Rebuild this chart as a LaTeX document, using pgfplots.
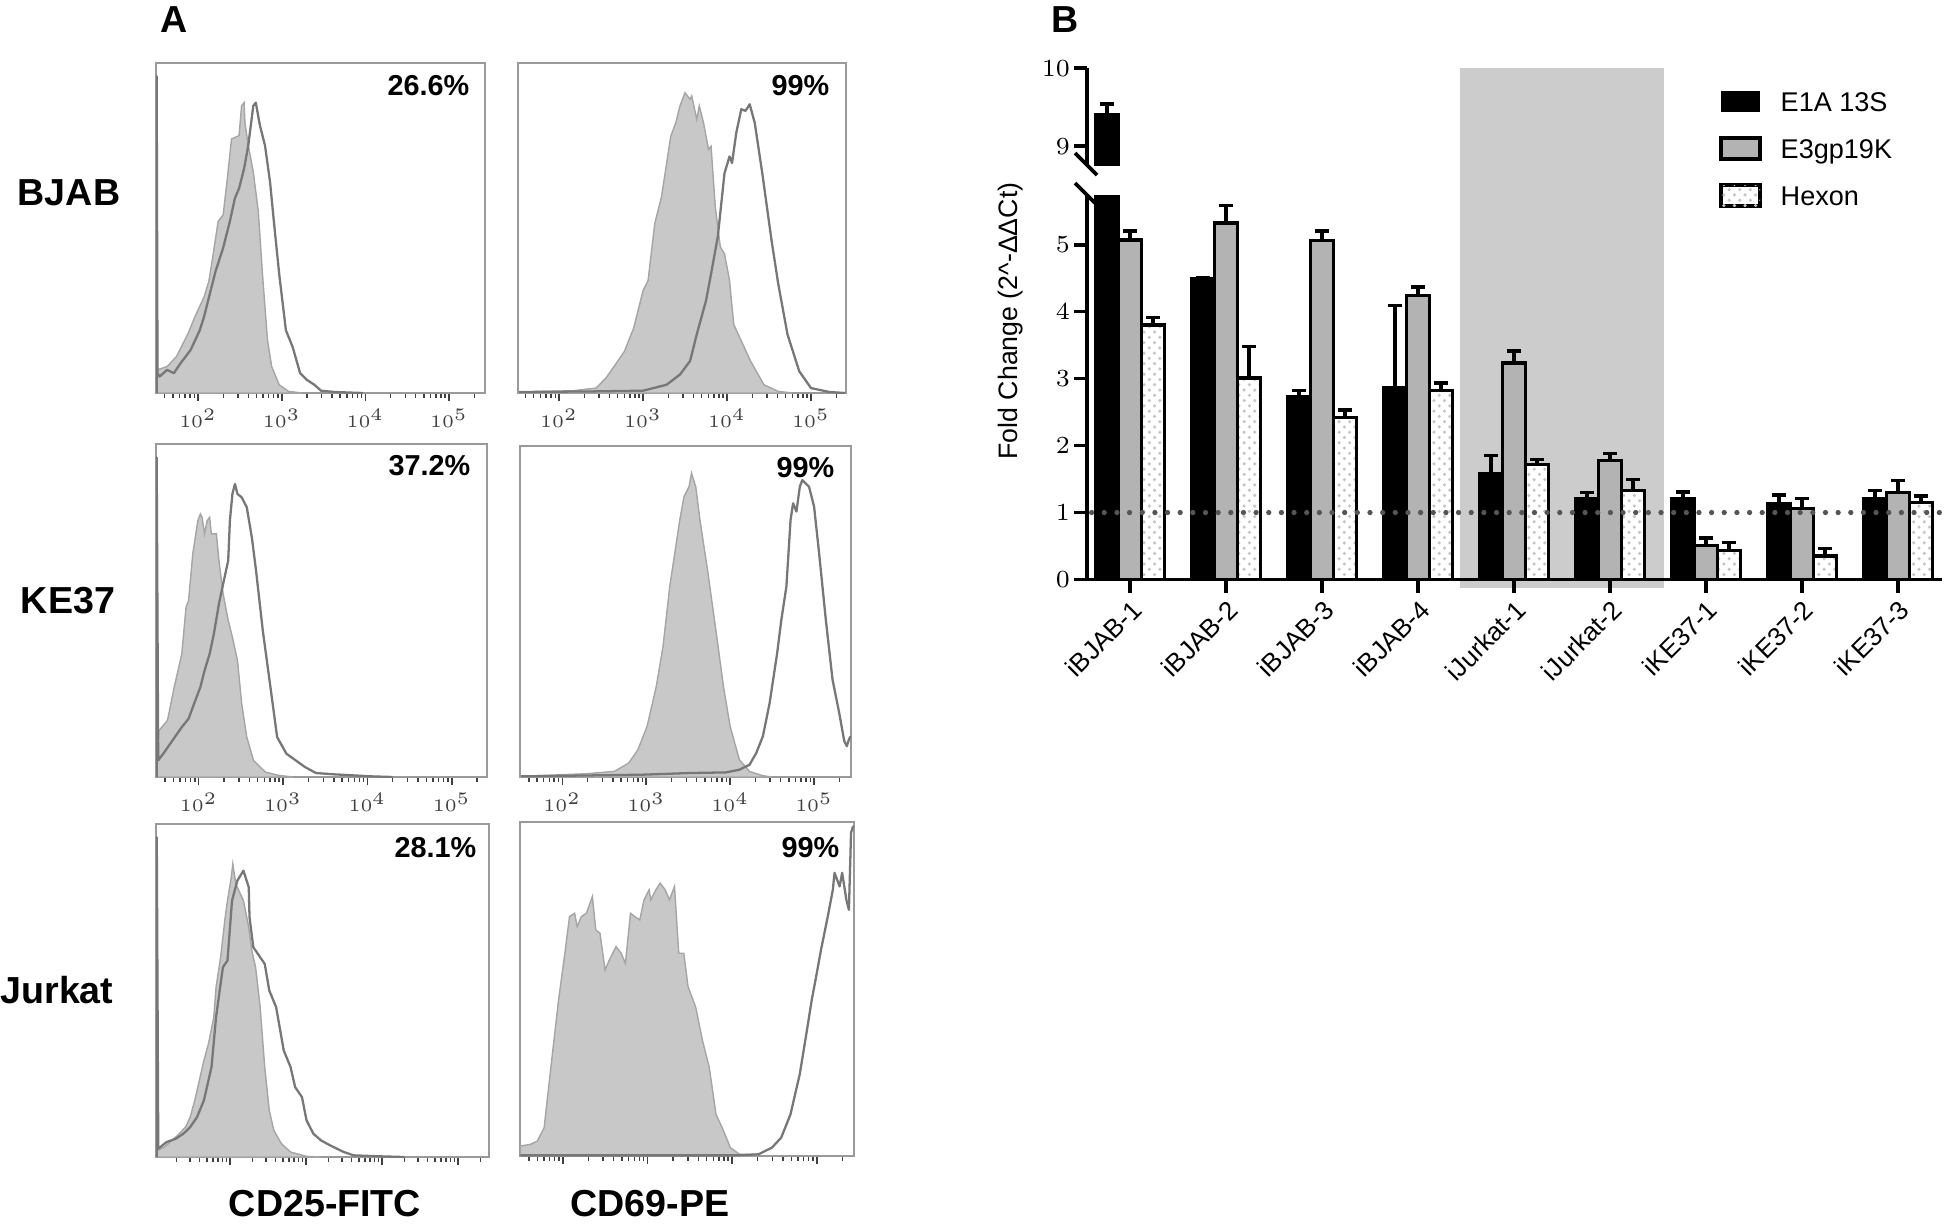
\documentclass[border=0pt]{standalone}
\usepackage{fontspec}
\setmainfont{Liberation Sans}
\usepackage{pgfplots}
\pgfplotsset{compat=1.18}
\usetikzlibrary{patterns}

\definecolor{histfill}{HTML}{C8C8C8}
\definecolor{histedge}{HTML}{A5A5A5}
\definecolor{histline}{HTML}{777777}
\definecolor{framegray}{HTML}{9A9A9A}
\definecolor{bargray}{HTML}{B3B3B3}
\definecolor{shadegray}{HTML}{CCCCCC}
\definecolor{dotgray}{HTML}{555555}

\newcommand\fs[1]{\fontsize{#1}{#1}\selectfont}

\pgfplotsset{
 hist/.style={scale only axis, anchor=south west, ymin=0, ymax=1,
  axis line style={framegray, line width=0.5pt},
  ytick=\empty, xtick={2,3,4,5},
  xticklabels={$10^{2}$,$10^{3}$,$10^{4}$,$10^{5}$},
  minor xtick={1.301,1.477,1.602,1.699,1.778,1.845,1.903,1.954,2.301,2.477,2.602,2.699,2.778,2.845,2.903,2.954,3.301,3.477,3.602,3.699,3.778,3.845,3.903,3.954,4.301,4.477,4.602,4.699,4.778,4.845,4.903,4.954,5.301},
  xtick pos=bottom, tick align=outside,
  major tick length=0.8mm, minor tick length=0.45mm,
  every tick/.append style={black!75, line width=0.45pt},
  every minor tick/.append style={black!75, line width=0.4pt},
  xticklabel style={font=\fs{5.2}, text=black!75, inner sep=0.6pt, yshift=-0.5mm},
 },
 fillcurve/.style={fill=histfill, draw=histedge, line width=0.4pt},
 openline/.style={draw=histline, line width=0.65pt, line join=round},
 ebar/.style={error bars/.cd, y dir=plus, y explicit,
   error bar style={black, line width=1pt},
   error mark options={rotate=90, black, line width=1pt, mark size=2pt}},
}

\begin{document}
\begin{tikzpicture}
\useasboundingbox (0,0) rectangle (194.6mm,-122.3mm);

% ---------------- Panel A ----------------
% Row 1 left: BJAB CD25
\begin{axis}[hist, at={(15.6mm,-39.3mm)}, width=32.9mm, height=33.0mm, xmin=1.497, xmax=5.43]
\addplot[fillcurve] table {
1.50 0
1.51 0.07
1.63 0.08
1.74 0.11
1.88 0.18
1.96 0.23
2.07 0.29
2.13 0.34
2.18 0.42
2.24 0.52
2.30 0.54
2.35 0.65
2.40 0.77
2.49 0.78
2.52 0.87
2.55 0.88
2.56 0.82
2.60 0.75
2.66 0.67
2.72 0.55
2.77 0.36
2.83 0.16
2.88 0.08
2.97 0.025
3.08 0.005
3.25 0
} -- cycle;
\addplot[openline] table {
1.505 0
1.505 0.96
1.515 0.06
1.54 0.05
1.63 0.07
1.71 0.06
1.79 0.09
1.91 0.13
2.02 0.19
2.07 0.23
2.16 0.32
2.21 0.37
2.30 0.44
2.38 0.52
2.44 0.59
2.49 0.62
2.55 0.68
2.60 0.75
2.66 0.87
2.69 0.88
2.74 0.81
2.80 0.75
2.86 0.64
2.91 0.51
2.97 0.36
3.05 0.19
3.13 0.14
3.22 0.06
3.30 0.04
3.39 0.025
3.47 0.007
3.64 0.003
3.97 0
};
\end{axis}

% Row 1 right: BJAB CD69
\begin{axis}[hist, at={(51.8mm,-39.3mm)}, width=32.8mm, height=33.0mm, xmin=1.511, xmax=5.417]
\addplot[fillcurve] table {
1.52 0
1.52 0.003
2.17 0.007
2.44 0.015
2.56 0.046
2.67 0.086
2.78 0.127
2.89 0.198
3.00 0.310
3.06 0.341
3.14 0.514
3.22 0.595
3.33 0.778
3.39 0.819
3.44 0.870
3.50 0.910
3.56 0.890
3.58 0.900
3.64 0.829
3.67 0.870
3.72 0.819
3.78 0.738
3.81 0.748
3.86 0.565
3.92 0.443
3.97 0.422
4.03 0.341
4.08 0.208
4.17 0.158
4.28 0.097
4.44 0.025
4.61 0.005
4.78 0
} -- cycle;
\addplot[openline] table {
1.52 0.003
2.44 0.005
3.00 0.007
3.28 0.025
3.44 0.056
3.56 0.097
3.64 0.178
3.75 0.280
3.81 0.361
3.89 0.473
3.97 0.666
4.03 0.717
4.06 0.697
4.11 0.788
4.17 0.860
4.22 0.855
4.27 0.875
4.33 0.819
4.42 0.666
4.53 0.463
4.61 0.331
4.72 0.178
4.86 0.066
5.00 0.015
5.22 0.003
5.41 0
};
\end{axis}

% Row 2 left: KE37 CD25
\begin{axis}[hist, at={(15.6mm,-77.7mm)}, width=33.1mm, height=33.3mm, xmin=1.494, xmax=5.418]
\addplot[fillcurve] table {
1.50 0
1.53 0.14
1.63 0.17
1.71 0.27
1.80 0.37
1.85 0.51
1.88 0.53
1.93 0.67
1.99 0.77
2.02 0.79
2.04 0.78
2.07 0.73
2.10 0.77
2.13 0.78
2.15 0.73
2.21 0.73
2.24 0.65
2.29 0.55
2.35 0.47
2.40 0.42
2.46 0.35
2.51 0.22
2.57 0.12
2.65 0.05
2.79 0.015
2.95 0.005
3.12 0
} -- cycle;
\addplot[openline] table {
1.502 0
1.502 0.96
1.52 0.05
1.58 0.07
1.69 0.11
1.80 0.15
1.88 0.175
1.96 0.23
2.02 0.27
2.07 0.32
2.13 0.37
2.18 0.43
2.24 0.52
2.29 0.58
2.35 0.65
2.37 0.77
2.40 0.85
2.43 0.88
2.46 0.85
2.51 0.84
2.57 0.81
2.63 0.72
2.68 0.62
2.76 0.44
2.84 0.29
2.93 0.12
3.04 0.07
3.15 0.05
3.26 0.03
3.39 0.012
3.61 0.008
4.05 0.002
4.30 0
};
\end{axis}

% Row 2 right: KE37 CD69
\begin{axis}[hist, at={(52.0mm,-77.7mm)}, width=33.1mm, height=33.1mm, xmin=1.496, xmax=5.44]
\addplot[fillcurve] table {
1.51 0
1.51 0.002
2.29 0.010
2.62 0.017
2.79 0.042
2.90 0.082
3.01 0.153
3.12 0.274
3.20 0.394
3.28 0.575
3.34 0.676
3.40 0.777
3.45 0.847
3.51 0.877
3.54 0.918
3.59 0.877
3.64 0.777
3.73 0.626
3.84 0.425
3.92 0.274
4.00 0.153
4.11 0.052
4.23 0.017
4.39 0.004
4.50 0
} -- cycle;
\addplot[openline] table {
1.51 0.002
2.95 0.007
3.51 0.012
3.95 0.014
4.11 0.022
4.23 0.037
4.31 0.072
4.39 0.123
4.47 0.223
4.56 0.374
4.61 0.475
4.67 0.575
4.72 0.777
4.75 0.827
4.79 0.802
4.83 0.877
4.86 0.897
4.90 0.887
4.94 0.877
5.00 0.817
5.06 0.676
5.14 0.475
5.22 0.294
5.30 0.193
5.36 0.108
5.39 0.093
5.415 0.113
5.435 0.123
};
\end{axis}

% Row 3 left: Jurkat CD25
\begin{axis}[hist, at={(15.6mm,-115.7mm)}, width=33.3mm, height=33.3mm, xmin=1.03, xmax=5.41, xticklabels={}]
\addplot[fillcurve] table {
1.04 0
1.05 0.02
1.14 0.03
1.29 0.06
1.42 0.09
1.48 0.12
1.54 0.17
1.60 0.23
1.66 0.29
1.72 0.34
1.79 0.42
1.82 0.51
1.88 0.60
1.94 0.72
1.97 0.77
2.02 0.84
2.04 0.88
2.08 0.82
2.12 0.80
2.18 0.77
2.25 0.69
2.29 0.62
2.34 0.57
2.40 0.45
2.46 0.27
2.52 0.14
2.58 0.08
2.68 0.04
2.80 0.015
3.01 0.002
3.20 0
} -- cycle;
\addplot[openline] table {
1.04 0
1.04 0.96
1.06 0.025
1.17 0.045
1.29 0.055
1.39 0.07
1.48 0.09
1.57 0.12
1.66 0.17
1.76 0.27
1.82 0.42
1.91 0.57
1.97 0.59
2.03 0.77
2.10 0.83
2.18 0.86
2.25 0.81
2.26 0.72
2.31 0.63
2.40 0.60
2.46 0.58
2.52 0.50
2.61 0.45
2.71 0.32
2.80 0.27
2.86 0.21
2.95 0.18
3.01 0.11
3.10 0.07
3.20 0.05
3.32 0.035
3.50 0.015
3.63 0.005
3.99 0.002
4.30 0
};
\end{axis}

% Row 3 right: Jurkat CD69
\begin{axis}[hist, at={(52.0mm,-115.6mm)}, width=33.4mm, height=33.4mm, xmin=1.495, xmax=5.44, xticklabels={}]
\addplot[fillcurve] table {
1.50 0
1.50 0.03
1.62 0.035
1.70 0.045
1.78 0.085
1.86 0.266
1.95 0.466
2.03 0.617
2.08 0.717
2.14 0.727
2.17 0.687
2.22 0.717
2.28 0.727
2.35 0.777
2.39 0.677
2.44 0.667
2.50 0.557
2.55 0.587
2.63 0.627
2.69 0.607
2.74 0.577
2.80 0.727
2.85 0.717
2.91 0.707
2.96 0.767
3.02 0.797
3.04 0.767
3.10 0.797
3.15 0.817
3.21 0.797
3.26 0.767
3.32 0.807
3.37 0.607
3.43 0.607
3.48 0.507
3.57 0.446
3.65 0.346
3.73 0.266
3.81 0.125
3.90 0.075
3.98 0.025
4.09 0.005
4.31 0.005
4.31 0
} -- cycle;
\addplot[openline] table {
1.50 0.002
4.03 0.002
4.31 0.005
4.47 0.025
4.58 0.055
4.69 0.125
4.80 0.246
4.89 0.386
4.94 0.466
5.00 0.547
5.05 0.617
5.13 0.717
5.19 0.797
5.21 0.848
5.27 0.807
5.30 0.848
5.35 0.767
5.38 0.737
5.405 0.968
5.43 0.988
};
\end{axis}

% Panel A labels
\tikzset{lab/.style={font=\bfseries\fs{10.7}, inner sep=0pt}, pct/.style={font=\bfseries\fs{8.2}, inner sep=0pt, anchor=base east}}
\node[lab, anchor=base] at (17.4mm,-3.2mm) {A};
\node[lab, anchor=base] at (6.9mm,-20.5mm) {BJAB};
\node[lab, anchor=base] at (6.8mm,-61.3mm) {KE37};
\node[lab, anchor=base] at (5.7mm,-100.3mm) {Jurkat};
\node[lab, anchor=base] at (32.5mm,-121.6mm) {CD25-FITC};
\node[lab, anchor=base] at (65.0mm,-121.6mm) {CD69-PE};
\node[pct] at (47.0mm,-9.5mm) {26.6\%};
\node[pct] at (83.0mm,-9.5mm) {99\%};
\node[pct] at (47.1mm,-47.5mm) {37.2\%};
\node[pct] at (83.5mm,-47.7mm) {99\%};
\node[pct] at (47.7mm,-85.7mm) {28.1\%};
\node[pct] at (84.0mm,-85.7mm) {99\%};

% ---------------- Panel B ----------------
\node[lab, anchor=base] at (106.5mm,-3.2mm) {B};

% background shading
\begin{axis}[at={(108.7mm,-57.95mm)}, anchor=south west, scale only axis,
  width=85.5mm, height=38.45mm, xmin=-0.448, xmax=8.46, ymin=0, ymax=5.74,
  axis lines=none, clip=false]
\addplot[fill=shadegray, draw=none] coordinates {(3.44,-0.12) (3.44,7.64) (5.56,7.64) (5.56,-0.12)} -- cycle;
\end{axis}

% lower part
\begin{axis}[at={(108.7mm,-57.95mm)}, anchor=south west, scale only axis,
  width=85.5mm, height=38.45mm, xmin=-0.448, xmax=8.46, ymin=0, ymax=5.74,
  axis x line=bottom, axis y line=left, axis line style={-, line width=1.1pt},
  ytick={0,1,2,3,4,5}, xtick={0,...,8},
  xticklabels={iBJAB-1,iBJAB-2,iBJAB-3,iBJAB-4,iJurkat-1,iJurkat-2,iKE37-1,iKE37-2,iKE37-3},
  tick align=outside, major tick length=1.3mm,
  every tick/.append style={black, line width=1.1pt},
  tick label style={font=\fs{7.4}},
  xticklabel style={rotate=45, anchor=north east, inner sep=1pt},
  yticklabel style={inner sep=1pt},
  ybar=0pt, bar width=0.24]
\addplot[fill=black, draw=black, line width=1pt, ebar] coordinates {
 (0,9.41) +- (0,0.13) (1,4.49) +- (0,0.02) (2,2.73) +- (0,0.09) (3,2.87) +- (0,1.22)
 (4,1.58) +- (0,0.27) (5,1.20) +- (0,0.10) (6,1.20) +- (0,0.11) (7,1.13) +- (0,0.13) (8,1.20) +- (0,0.13)};
\addplot[fill=bargray, draw=black, line width=1pt, ebar] coordinates {
 (0,5.07) +- (0,0.13) (1,5.32) +- (0,0.26) (2,5.06) +- (0,0.14) (3,4.24) +- (0,0.13)
 (4,3.23) +- (0,0.18) (5,1.78) +- (0,0.10) (6,0.51) +- (0,0.11) (7,1.06) +- (0,0.15) (8,1.30) +- (0,0.18)};
\addplot[fill=white, draw=black, line width=1pt, postaction={pattern=crosshatch dots, pattern color=gray!45}, ebar] coordinates {
 (0,3.80) +- (0,0.11) (1,3.01) +- (0,0.47) (2,2.42) +- (0,0.11) (3,2.82) +- (0,0.11)
 (4,1.72) +- (0,0.07) (5,1.33) +- (0,0.16) (6,0.43) +- (0,0.12) (7,0.35) +- (0,0.11) (8,1.15) +- (0,0.10)};
\addplot[sharp plot, draw=dotgray, line width=1.5pt, line cap=round, dash pattern=on 0pt off 3.6pt] coordinates {(-0.40,1) (8.46,1)};
\end{axis}

% upper part
\begin{axis}[at={(108.7mm,-16.5mm)}, anchor=south west, scale only axis,
  width=85.5mm, height=9.67mm, xmin=-0.448, xmax=8.46, ymin=8.76, ymax=10,
  axis x line=none, axis y line=left, axis line style={-, line width=1.1pt},
  ytick={9,10}, tick align=outside, major tick length=1.3mm,
  every tick/.append style={black, line width=1.1pt},
  tick label style={font=\fs{7.4}}, yticklabel style={inner sep=1pt}]
\addplot[ybar, bar width=0.24, bar shift=0, fill=black, draw=black, line width=1pt, ebar] coordinates {(-0.24,9.41) +- (0,0.13)};
\end{axis}

% axis break marks
\draw[line width=1.1pt] (107.5mm,-15.3mm) -- (109.7mm,-17.5mm);
\draw[line width=1.1pt] (107.5mm,-18.3mm) -- (109.7mm,-20.5mm);

% y label
\node[rotate=90, font=\fs{7.6}, inner sep=0pt] at (101.1mm,-32.1mm) {Fold Change (2\textasciicircum-ΔΔCt)};

% legend
\fill[black] (172.1mm,-9.1mm) rectangle (176.0mm,-11.2mm);
\draw[line width=1pt, fill=bargray] (172.1mm,-13.8mm) rectangle (176.0mm,-15.9mm);
\draw[line width=1pt, fill=white, postaction={pattern=crosshatch dots, pattern color=gray!45}] (172.1mm,-18.5mm) rectangle (176.0mm,-20.6mm);
\node[anchor=base west, font=\fs{7.7}, inner sep=0pt] at (178.0mm,-11.1mm) {E1A 13S};
\node[anchor=base west, font=\fs{7.7}, inner sep=0pt] at (178.0mm,-15.8mm) {E3gp19K};
\node[anchor=base west, font=\fs{7.7}, inner sep=0pt] at (178.0mm,-20.5mm) {Hexon};
\end{tikzpicture}
\end{document}
